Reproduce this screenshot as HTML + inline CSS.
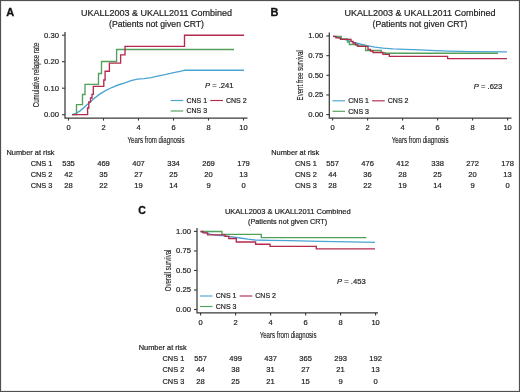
<!DOCTYPE html><html><head><meta charset="utf-8"><style>html,body{margin:0;padding:0;background:#fff;}svg{display:block;will-change:transform;filter:blur(0.3px);}text{font-family:"Liberation Sans", sans-serif;}</style></head><body>
<svg width="520" height="392" viewBox="0 0 520 392">
<rect x="0" y="0" width="520" height="392" fill="#fff"/>
<text x="6.2" y="15.7" font-size="11" font-weight="bold" fill="#111" stroke="#111" stroke-width="0.3">A</text>
<text x="156.5" y="16.3" font-size="9" text-anchor="middle" fill="#1e1e1e" stroke="#1e1e1e" stroke-width="0.2" textLength="151.2" lengthAdjust="spacingAndGlyphs">UKALL2003 &amp; UKALL2011 Combined</text>
<text x="156.5" y="26.7" font-size="9" text-anchor="middle" fill="#1e1e1e" stroke="#1e1e1e" stroke-width="0.2" textLength="95" lengthAdjust="spacingAndGlyphs">(Patients not given CRT)</text>
<path d="M65,32 V118 H247.5" fill="none" stroke="#3a3a3a" stroke-width="1.25"/>
<path d="M62,35.20 H65" stroke="#3a3a3a" stroke-width="1.1"/>
<text x="59" y="37.65" font-size="7.7" text-anchor="end" fill="#1e1e1e" stroke="#1e1e1e" stroke-width="0.2">0.30</text>
<path d="M62,61.70 H65" stroke="#3a3a3a" stroke-width="1.1"/>
<text x="59" y="64.15" font-size="7.7" text-anchor="end" fill="#1e1e1e" stroke="#1e1e1e" stroke-width="0.2">0.20</text>
<path d="M62,88.20 H65" stroke="#3a3a3a" stroke-width="1.1"/>
<text x="59" y="90.65" font-size="7.7" text-anchor="end" fill="#1e1e1e" stroke="#1e1e1e" stroke-width="0.2">0.10</text>
<path d="M62,114.70 H65" stroke="#3a3a3a" stroke-width="1.1"/>
<text x="59" y="117.15" font-size="7.7" text-anchor="end" fill="#1e1e1e" stroke="#1e1e1e" stroke-width="0.2">0.00</text>
<path d="M68.50,118 V120.6" stroke="#3a3a3a" stroke-width="1.1"/>
<text x="68.5" y="130.2" font-size="7.5" text-anchor="middle" fill="#1e1e1e" stroke="#1e1e1e" stroke-width="0.2">0</text>
<path d="M103.50,118 V120.6" stroke="#3a3a3a" stroke-width="1.1"/>
<text x="103.5" y="130.2" font-size="7.5" text-anchor="middle" fill="#1e1e1e" stroke="#1e1e1e" stroke-width="0.2">2</text>
<path d="M138.50,118 V120.6" stroke="#3a3a3a" stroke-width="1.1"/>
<text x="138.5" y="130.2" font-size="7.5" text-anchor="middle" fill="#1e1e1e" stroke="#1e1e1e" stroke-width="0.2">4</text>
<path d="M173.50,118 V120.6" stroke="#3a3a3a" stroke-width="1.1"/>
<text x="173.5" y="130.2" font-size="7.5" text-anchor="middle" fill="#1e1e1e" stroke="#1e1e1e" stroke-width="0.2">6</text>
<path d="M208.50,118 V120.6" stroke="#3a3a3a" stroke-width="1.1"/>
<text x="208.5" y="130.2" font-size="7.5" text-anchor="middle" fill="#1e1e1e" stroke="#1e1e1e" stroke-width="0.2">8</text>
<path d="M243.50,118 V120.6" stroke="#3a3a3a" stroke-width="1.1"/>
<text x="243.5" y="130.2" font-size="7.5" text-anchor="middle" fill="#1e1e1e" stroke="#1e1e1e" stroke-width="0.2">10</text>
<text x="0" y="0" font-size="9" text-anchor="middle" fill="#1e1e1e" stroke="#1e1e1e" stroke-width="0.15" transform="translate(156.0,142.85) scale(0.68,1)">Years from diagnosis</text>
<text x="0" y="0" font-size="9" text-anchor="middle" fill="#1e1e1e" stroke="#1e1e1e" stroke-width="0.15" transform="translate(38.9,74.95) rotate(-90) scale(0.68,1)">Cumulative relapse rate</text>
<path d="M72,114.6 L76,113.3 L80.5,110.6 L86.75,105 L93,99.4 L99.25,94.4 L105.5,90.6 L111.75,87.5 L118,85 L124.25,83.1 L131,80.6 L137.5,79.2 L144,78.6 L151,77.7 L157.5,76.2 L165,74.6 L172.5,72.8 L180,71.4 L185,70.2 L244,70.2" fill="none" stroke="#4aa5d4" stroke-width="1.35" stroke-linejoin="miter"/>
<path d="M72,114.6 H76.5 V104.6 H82.5 V94.5 H85 V84.3 H98.5 V73.5 H101.5 V61.5 H116.6 V49.5 H234" fill="none" stroke="#53a05a" stroke-width="1.35" stroke-linejoin="miter"/>
<path d="M72,114.6 H87.6 V108 H88.8 V102 H90.5 V98 H92 V94.4 H93.3 V86.4 H103.8 V80 H105.1 V71.2 H109.4 V63.1 H120.6 V54.8 H125 V46.3 H184.5 V35.2 H244" fill="none" stroke="#b42a4c" stroke-width="1.35" stroke-linejoin="miter"/>
<text x="205" y="87.6" font-size="7.6" fill="#1e1e1e" stroke="#1e1e1e" stroke-width="0.2"><tspan font-style="italic">P</tspan> = .241</text>
<path d="M170.7,100.5 H183.2" stroke="#4aa5d4" stroke-width="1.15"/>
<text x="186.5" y="102.9" font-size="7.0" text-anchor="start" fill="#1e1e1e" stroke="#1e1e1e" stroke-width="0.2">CNS 1</text>
<path d="M210.29999999999998,100.5 H223.0" stroke="#b42a4c" stroke-width="1.15"/>
<text x="226.0" y="102.9" font-size="7.0" text-anchor="start" fill="#1e1e1e" stroke="#1e1e1e" stroke-width="0.2">CNS 2</text>
<path d="M170.7,111.0 H183.2" stroke="#53a05a" stroke-width="1.15"/>
<text x="186.5" y="113.4" font-size="7.0" text-anchor="start" fill="#1e1e1e" stroke="#1e1e1e" stroke-width="0.2">CNS 3</text>
<text x="6.5" y="154.7" font-size="7.4" text-anchor="start" fill="#1e1e1e" stroke="#1e1e1e" stroke-width="0.2">Number at risk</text>
<text x="30.7" y="165.89999999999998" font-size="7.4" text-anchor="start" fill="#1e1e1e" stroke="#1e1e1e" stroke-width="0.2">CNS 1</text>
<text x="68.5" y="165.89999999999998" font-size="7.6" text-anchor="middle" fill="#1e1e1e" stroke="#1e1e1e" stroke-width="0.2">535</text>
<text x="103.5" y="165.89999999999998" font-size="7.6" text-anchor="middle" fill="#1e1e1e" stroke="#1e1e1e" stroke-width="0.2">469</text>
<text x="138.5" y="165.89999999999998" font-size="7.6" text-anchor="middle" fill="#1e1e1e" stroke="#1e1e1e" stroke-width="0.2">407</text>
<text x="173.5" y="165.89999999999998" font-size="7.6" text-anchor="middle" fill="#1e1e1e" stroke="#1e1e1e" stroke-width="0.2">334</text>
<text x="208.5" y="165.89999999999998" font-size="7.6" text-anchor="middle" fill="#1e1e1e" stroke="#1e1e1e" stroke-width="0.2">269</text>
<text x="243.5" y="165.89999999999998" font-size="7.6" text-anchor="middle" fill="#1e1e1e" stroke="#1e1e1e" stroke-width="0.2">179</text>
<text x="30.7" y="177.1" font-size="7.4" text-anchor="start" fill="#1e1e1e" stroke="#1e1e1e" stroke-width="0.2">CNS 2</text>
<text x="68.5" y="177.1" font-size="7.6" text-anchor="middle" fill="#1e1e1e" stroke="#1e1e1e" stroke-width="0.2">42</text>
<text x="103.5" y="177.1" font-size="7.6" text-anchor="middle" fill="#1e1e1e" stroke="#1e1e1e" stroke-width="0.2">35</text>
<text x="138.5" y="177.1" font-size="7.6" text-anchor="middle" fill="#1e1e1e" stroke="#1e1e1e" stroke-width="0.2">27</text>
<text x="173.5" y="177.1" font-size="7.6" text-anchor="middle" fill="#1e1e1e" stroke="#1e1e1e" stroke-width="0.2">25</text>
<text x="208.5" y="177.1" font-size="7.6" text-anchor="middle" fill="#1e1e1e" stroke="#1e1e1e" stroke-width="0.2">20</text>
<text x="243.5" y="177.1" font-size="7.6" text-anchor="middle" fill="#1e1e1e" stroke="#1e1e1e" stroke-width="0.2">13</text>
<text x="30.7" y="188.29999999999998" font-size="7.4" text-anchor="start" fill="#1e1e1e" stroke="#1e1e1e" stroke-width="0.2">CNS 3</text>
<text x="68.5" y="188.29999999999998" font-size="7.6" text-anchor="middle" fill="#1e1e1e" stroke="#1e1e1e" stroke-width="0.2">28</text>
<text x="103.5" y="188.29999999999998" font-size="7.6" text-anchor="middle" fill="#1e1e1e" stroke="#1e1e1e" stroke-width="0.2">22</text>
<text x="138.5" y="188.29999999999998" font-size="7.6" text-anchor="middle" fill="#1e1e1e" stroke="#1e1e1e" stroke-width="0.2">19</text>
<text x="173.5" y="188.29999999999998" font-size="7.6" text-anchor="middle" fill="#1e1e1e" stroke="#1e1e1e" stroke-width="0.2">14</text>
<text x="208.5" y="188.29999999999998" font-size="7.6" text-anchor="middle" fill="#1e1e1e" stroke="#1e1e1e" stroke-width="0.2">9</text>
<text x="243.5" y="188.29999999999998" font-size="7.6" text-anchor="middle" fill="#1e1e1e" stroke="#1e1e1e" stroke-width="0.2">0</text>
<text x="270.5" y="15.7" font-size="11" font-weight="bold" fill="#111" stroke="#111" stroke-width="0.3">B</text>
<text x="420" y="16.3" font-size="9" text-anchor="middle" fill="#1e1e1e" stroke="#1e1e1e" stroke-width="0.2" textLength="151.2" lengthAdjust="spacingAndGlyphs">UKALL2003 &amp; UKALL2011 Combined</text>
<text x="420" y="26.7" font-size="9" text-anchor="middle" fill="#1e1e1e" stroke="#1e1e1e" stroke-width="0.2" textLength="95" lengthAdjust="spacingAndGlyphs">(Patients not given CRT)</text>
<path d="M329.3,32.6 V118 H511.5" fill="none" stroke="#3a3a3a" stroke-width="1.25"/>
<path d="M326.3,36.00 H329.3" stroke="#3a3a3a" stroke-width="1.1"/>
<text x="323.3" y="38.45" font-size="7.7" text-anchor="end" fill="#1e1e1e" stroke="#1e1e1e" stroke-width="0.2">1.00</text>
<path d="M326.3,55.65 H329.3" stroke="#3a3a3a" stroke-width="1.1"/>
<text x="323.3" y="58.1" font-size="7.7" text-anchor="end" fill="#1e1e1e" stroke="#1e1e1e" stroke-width="0.2">0.75</text>
<path d="M326.3,75.30 H329.3" stroke="#3a3a3a" stroke-width="1.1"/>
<text x="323.3" y="77.75" font-size="7.7" text-anchor="end" fill="#1e1e1e" stroke="#1e1e1e" stroke-width="0.2">0.50</text>
<path d="M326.3,94.95 H329.3" stroke="#3a3a3a" stroke-width="1.1"/>
<text x="323.3" y="97.4" font-size="7.7" text-anchor="end" fill="#1e1e1e" stroke="#1e1e1e" stroke-width="0.2">0.25</text>
<path d="M326.3,114.60 H329.3" stroke="#3a3a3a" stroke-width="1.1"/>
<text x="323.3" y="117.05" font-size="7.7" text-anchor="end" fill="#1e1e1e" stroke="#1e1e1e" stroke-width="0.2">0.00</text>
<path d="M332.60,118 V120.6" stroke="#3a3a3a" stroke-width="1.1"/>
<text x="332.6" y="130.2" font-size="7.5" text-anchor="middle" fill="#1e1e1e" stroke="#1e1e1e" stroke-width="0.2">0</text>
<path d="M367.60,118 V120.6" stroke="#3a3a3a" stroke-width="1.1"/>
<text x="367.6" y="130.2" font-size="7.5" text-anchor="middle" fill="#1e1e1e" stroke="#1e1e1e" stroke-width="0.2">2</text>
<path d="M402.60,118 V120.6" stroke="#3a3a3a" stroke-width="1.1"/>
<text x="402.6" y="130.2" font-size="7.5" text-anchor="middle" fill="#1e1e1e" stroke="#1e1e1e" stroke-width="0.2">4</text>
<path d="M437.60,118 V120.6" stroke="#3a3a3a" stroke-width="1.1"/>
<text x="437.6" y="130.2" font-size="7.5" text-anchor="middle" fill="#1e1e1e" stroke="#1e1e1e" stroke-width="0.2">6</text>
<path d="M472.60,118 V120.6" stroke="#3a3a3a" stroke-width="1.1"/>
<text x="472.6" y="130.2" font-size="7.5" text-anchor="middle" fill="#1e1e1e" stroke="#1e1e1e" stroke-width="0.2">8</text>
<path d="M507.60,118 V120.6" stroke="#3a3a3a" stroke-width="1.1"/>
<text x="507.6" y="130.2" font-size="7.5" text-anchor="middle" fill="#1e1e1e" stroke="#1e1e1e" stroke-width="0.2">10</text>
<text x="0" y="0" font-size="9" text-anchor="middle" fill="#1e1e1e" stroke="#1e1e1e" stroke-width="0.15" transform="translate(420.1,142.85) scale(0.68,1)">Years from diagnosis</text>
<text x="0" y="0" font-size="9" text-anchor="middle" fill="#1e1e1e" stroke="#1e1e1e" stroke-width="0.15" transform="translate(302.5,75.3) rotate(-90) scale(0.68,1)">Event free survival</text>
<path d="M333,36.3 L340,38.2 L347,40.2 L353,42.1 L360,44 L367,45.7 L375,47.1 L383,48.1 L393,48.8 L405,49.3 L420,49.9 L435,50.6 L450,51.2 L470,51.6 L507,51.9" fill="none" stroke="#4aa5d4" stroke-width="1.35" stroke-linejoin="miter"/>
<path d="M333,36.3 H341.2 V38.9 H347.5 V42 H349.4 V44.5 H357 V45.8 H365.6 V50.5 H381.2 V52.6 H385 V53.2 H498" fill="none" stroke="#53a05a" stroke-width="1.35" stroke-linejoin="miter"/>
<path d="M333,36.3 H336 V37.8 H340.5 V39.4 H351 V41.3 H353 V43 H355.5 V44.8 H358 V46.3 H368 V49.4 H370.5 V51 H373 V52.5 H383 V54.4 H389.3 V56.3 H447.6 V58.6 H507" fill="none" stroke="#b42a4c" stroke-width="1.35" stroke-linejoin="miter"/>
<text x="473.8" y="89" font-size="7.6" fill="#1e1e1e" stroke="#1e1e1e" stroke-width="0.2"><tspan font-style="italic">P</tspan> = .623</text>
<path d="M332.5,100.8 H345.0" stroke="#4aa5d4" stroke-width="1.15"/>
<text x="348.3" y="103.2" font-size="7.0" text-anchor="start" fill="#1e1e1e" stroke="#1e1e1e" stroke-width="0.2">CNS 1</text>
<path d="M372.1,100.8 H384.8" stroke="#b42a4c" stroke-width="1.15"/>
<text x="387.8" y="103.2" font-size="7.0" text-anchor="start" fill="#1e1e1e" stroke="#1e1e1e" stroke-width="0.2">CNS 2</text>
<path d="M332.5,111.3 H345.0" stroke="#53a05a" stroke-width="1.15"/>
<text x="348.3" y="113.7" font-size="7.0" text-anchor="start" fill="#1e1e1e" stroke="#1e1e1e" stroke-width="0.2">CNS 3</text>
<text x="271.2" y="154.7" font-size="7.4" text-anchor="start" fill="#1e1e1e" stroke="#1e1e1e" stroke-width="0.2">Number at risk</text>
<text x="295" y="165.89999999999998" font-size="7.4" text-anchor="start" fill="#1e1e1e" stroke="#1e1e1e" stroke-width="0.2">CNS 1</text>
<text x="332.6" y="165.89999999999998" font-size="7.6" text-anchor="middle" fill="#1e1e1e" stroke="#1e1e1e" stroke-width="0.2">557</text>
<text x="367.6" y="165.89999999999998" font-size="7.6" text-anchor="middle" fill="#1e1e1e" stroke="#1e1e1e" stroke-width="0.2">476</text>
<text x="402.6" y="165.89999999999998" font-size="7.6" text-anchor="middle" fill="#1e1e1e" stroke="#1e1e1e" stroke-width="0.2">412</text>
<text x="437.6" y="165.89999999999998" font-size="7.6" text-anchor="middle" fill="#1e1e1e" stroke="#1e1e1e" stroke-width="0.2">338</text>
<text x="472.6" y="165.89999999999998" font-size="7.6" text-anchor="middle" fill="#1e1e1e" stroke="#1e1e1e" stroke-width="0.2">272</text>
<text x="507.6" y="165.89999999999998" font-size="7.6" text-anchor="middle" fill="#1e1e1e" stroke="#1e1e1e" stroke-width="0.2">178</text>
<text x="295" y="177.1" font-size="7.4" text-anchor="start" fill="#1e1e1e" stroke="#1e1e1e" stroke-width="0.2">CNS 2</text>
<text x="332.6" y="177.1" font-size="7.6" text-anchor="middle" fill="#1e1e1e" stroke="#1e1e1e" stroke-width="0.2">44</text>
<text x="367.6" y="177.1" font-size="7.6" text-anchor="middle" fill="#1e1e1e" stroke="#1e1e1e" stroke-width="0.2">36</text>
<text x="402.6" y="177.1" font-size="7.6" text-anchor="middle" fill="#1e1e1e" stroke="#1e1e1e" stroke-width="0.2">28</text>
<text x="437.6" y="177.1" font-size="7.6" text-anchor="middle" fill="#1e1e1e" stroke="#1e1e1e" stroke-width="0.2">25</text>
<text x="472.6" y="177.1" font-size="7.6" text-anchor="middle" fill="#1e1e1e" stroke="#1e1e1e" stroke-width="0.2">20</text>
<text x="507.6" y="177.1" font-size="7.6" text-anchor="middle" fill="#1e1e1e" stroke="#1e1e1e" stroke-width="0.2">13</text>
<text x="295" y="188.29999999999998" font-size="7.4" text-anchor="start" fill="#1e1e1e" stroke="#1e1e1e" stroke-width="0.2">CNS 3</text>
<text x="332.6" y="188.29999999999998" font-size="7.6" text-anchor="middle" fill="#1e1e1e" stroke="#1e1e1e" stroke-width="0.2">28</text>
<text x="367.6" y="188.29999999999998" font-size="7.6" text-anchor="middle" fill="#1e1e1e" stroke="#1e1e1e" stroke-width="0.2">22</text>
<text x="402.6" y="188.29999999999998" font-size="7.6" text-anchor="middle" fill="#1e1e1e" stroke="#1e1e1e" stroke-width="0.2">19</text>
<text x="437.6" y="188.29999999999998" font-size="7.6" text-anchor="middle" fill="#1e1e1e" stroke="#1e1e1e" stroke-width="0.2">14</text>
<text x="472.6" y="188.29999999999998" font-size="7.6" text-anchor="middle" fill="#1e1e1e" stroke="#1e1e1e" stroke-width="0.2">9</text>
<text x="507.6" y="188.29999999999998" font-size="7.6" text-anchor="middle" fill="#1e1e1e" stroke="#1e1e1e" stroke-width="0.2">0</text>
<text x="138.3" y="214.3" font-size="10.5" font-weight="bold" fill="#111" stroke="#111" stroke-width="0.3">C</text>
<text x="287.8" y="214.2" font-size="7.5" text-anchor="middle" fill="#1e1e1e" stroke="#1e1e1e" stroke-width="0.2" textLength="125.8" lengthAdjust="spacingAndGlyphs">UKALL2003 &amp; UKALL2011 Combined</text>
<text x="287.6" y="223.9" font-size="7.3" text-anchor="middle" fill="#1e1e1e" stroke="#1e1e1e" stroke-width="0.2" textLength="79" lengthAdjust="spacingAndGlyphs">(Patients not given CRT)</text>
<path d="M197,228 V312.8 H378" fill="none" stroke="#3a3a3a" stroke-width="1.25"/>
<path d="M194,231.40 H197" stroke="#3a3a3a" stroke-width="1.1"/>
<text x="191" y="233.85" font-size="7.7" text-anchor="end" fill="#1e1e1e" stroke="#1e1e1e" stroke-width="0.2">1.00</text>
<path d="M194,250.93 H197" stroke="#3a3a3a" stroke-width="1.1"/>
<text x="191" y="253.38" font-size="7.7" text-anchor="end" fill="#1e1e1e" stroke="#1e1e1e" stroke-width="0.2">0.75</text>
<path d="M194,270.45 H197" stroke="#3a3a3a" stroke-width="1.1"/>
<text x="191" y="272.9" font-size="7.7" text-anchor="end" fill="#1e1e1e" stroke="#1e1e1e" stroke-width="0.2">0.50</text>
<path d="M194,289.98 H197" stroke="#3a3a3a" stroke-width="1.1"/>
<text x="191" y="292.43" font-size="7.7" text-anchor="end" fill="#1e1e1e" stroke="#1e1e1e" stroke-width="0.2">0.25</text>
<path d="M194,309.50 H197" stroke="#3a3a3a" stroke-width="1.1"/>
<text x="191" y="311.95" font-size="7.7" text-anchor="end" fill="#1e1e1e" stroke="#1e1e1e" stroke-width="0.2">0.00</text>
<path d="M200.60,312.8 V315.40000000000003" stroke="#3a3a3a" stroke-width="1.1"/>
<text x="200.6" y="325.0" font-size="7.5" text-anchor="middle" fill="#1e1e1e" stroke="#1e1e1e" stroke-width="0.2">0</text>
<path d="M235.60,312.8 V315.40000000000003" stroke="#3a3a3a" stroke-width="1.1"/>
<text x="235.6" y="325.0" font-size="7.5" text-anchor="middle" fill="#1e1e1e" stroke="#1e1e1e" stroke-width="0.2">2</text>
<path d="M270.60,312.8 V315.40000000000003" stroke="#3a3a3a" stroke-width="1.1"/>
<text x="270.6" y="325.0" font-size="7.5" text-anchor="middle" fill="#1e1e1e" stroke="#1e1e1e" stroke-width="0.2">4</text>
<path d="M305.60,312.8 V315.40000000000003" stroke="#3a3a3a" stroke-width="1.1"/>
<text x="305.6" y="325.0" font-size="7.5" text-anchor="middle" fill="#1e1e1e" stroke="#1e1e1e" stroke-width="0.2">6</text>
<path d="M340.60,312.8 V315.40000000000003" stroke="#3a3a3a" stroke-width="1.1"/>
<text x="340.6" y="325.0" font-size="7.5" text-anchor="middle" fill="#1e1e1e" stroke="#1e1e1e" stroke-width="0.2">8</text>
<path d="M375.60,312.8 V315.40000000000003" stroke="#3a3a3a" stroke-width="1.1"/>
<text x="375.6" y="325.0" font-size="7.5" text-anchor="middle" fill="#1e1e1e" stroke="#1e1e1e" stroke-width="0.2">10</text>
<text x="0" y="0" font-size="9" text-anchor="middle" fill="#1e1e1e" stroke="#1e1e1e" stroke-width="0.15" transform="translate(288.1,338.1) scale(0.68,1)">Years from diagnosis</text>
<text x="0" y="0" font-size="9" text-anchor="middle" fill="#1e1e1e" stroke="#1e1e1e" stroke-width="0.15" transform="translate(170.8,270.45) rotate(-90) scale(0.68,1)">Overall survival</text>
<path d="M200.6,231.5 L205,232.6 L210,234.2 L218,235.3 L225,235.8 L232,236.8 L240,238 L248,239.2 L255,240 L270,240.4 L290,240.7 L320,241.3 L350,241.9 L375,242.3" fill="none" stroke="#4aa5d4" stroke-width="1.35" stroke-linejoin="miter"/>
<path d="M200.6,231.5 H221.9 V234.4 H261.3 V237.6 H366.3" fill="none" stroke="#53a05a" stroke-width="1.35" stroke-linejoin="miter"/>
<path d="M200.6,231.5 H203.1 V232.8 H207.5 V234.8 H225 V236.3 H228.8 V238.5 H236.3 V242 H255.6 V244.2 H270 V246.4 H316.3 V248.8 H375" fill="none" stroke="#b42a4c" stroke-width="1.35" stroke-linejoin="miter"/>
<text x="337.1" y="283.8" font-size="7.6" fill="#1e1e1e" stroke="#1e1e1e" stroke-width="0.2"><tspan font-style="italic">P</tspan> = .453</text>
<path d="M200,296 H212.5" stroke="#4aa5d4" stroke-width="1.15"/>
<text x="215.8" y="298.4" font-size="7.0" text-anchor="start" fill="#1e1e1e" stroke="#1e1e1e" stroke-width="0.2">CNS 1</text>
<path d="M239.6,296 H252.3" stroke="#b42a4c" stroke-width="1.15"/>
<text x="255.3" y="298.4" font-size="7.0" text-anchor="start" fill="#1e1e1e" stroke="#1e1e1e" stroke-width="0.2">CNS 2</text>
<path d="M200,306.5 H212.5" stroke="#53a05a" stroke-width="1.15"/>
<text x="215.8" y="308.9" font-size="7.0" text-anchor="start" fill="#1e1e1e" stroke="#1e1e1e" stroke-width="0.2">CNS 3</text>
<text x="138.7" y="349.9" font-size="7.4" text-anchor="start" fill="#1e1e1e" stroke="#1e1e1e" stroke-width="0.2">Number at risk</text>
<text x="162.5" y="361.09999999999997" font-size="7.4" text-anchor="start" fill="#1e1e1e" stroke="#1e1e1e" stroke-width="0.2">CNS 1</text>
<text x="200.6" y="361.09999999999997" font-size="7.6" text-anchor="middle" fill="#1e1e1e" stroke="#1e1e1e" stroke-width="0.2">557</text>
<text x="235.6" y="361.09999999999997" font-size="7.6" text-anchor="middle" fill="#1e1e1e" stroke="#1e1e1e" stroke-width="0.2">499</text>
<text x="270.6" y="361.09999999999997" font-size="7.6" text-anchor="middle" fill="#1e1e1e" stroke="#1e1e1e" stroke-width="0.2">437</text>
<text x="305.6" y="361.09999999999997" font-size="7.6" text-anchor="middle" fill="#1e1e1e" stroke="#1e1e1e" stroke-width="0.2">365</text>
<text x="340.6" y="361.09999999999997" font-size="7.6" text-anchor="middle" fill="#1e1e1e" stroke="#1e1e1e" stroke-width="0.2">293</text>
<text x="375.6" y="361.09999999999997" font-size="7.6" text-anchor="middle" fill="#1e1e1e" stroke="#1e1e1e" stroke-width="0.2">192</text>
<text x="162.5" y="372.29999999999995" font-size="7.4" text-anchor="start" fill="#1e1e1e" stroke="#1e1e1e" stroke-width="0.2">CNS 2</text>
<text x="200.6" y="372.29999999999995" font-size="7.6" text-anchor="middle" fill="#1e1e1e" stroke="#1e1e1e" stroke-width="0.2">44</text>
<text x="235.6" y="372.29999999999995" font-size="7.6" text-anchor="middle" fill="#1e1e1e" stroke="#1e1e1e" stroke-width="0.2">38</text>
<text x="270.6" y="372.29999999999995" font-size="7.6" text-anchor="middle" fill="#1e1e1e" stroke="#1e1e1e" stroke-width="0.2">31</text>
<text x="305.6" y="372.29999999999995" font-size="7.6" text-anchor="middle" fill="#1e1e1e" stroke="#1e1e1e" stroke-width="0.2">27</text>
<text x="340.6" y="372.29999999999995" font-size="7.6" text-anchor="middle" fill="#1e1e1e" stroke="#1e1e1e" stroke-width="0.2">21</text>
<text x="375.6" y="372.29999999999995" font-size="7.6" text-anchor="middle" fill="#1e1e1e" stroke="#1e1e1e" stroke-width="0.2">13</text>
<text x="162.5" y="383.5" font-size="7.4" text-anchor="start" fill="#1e1e1e" stroke="#1e1e1e" stroke-width="0.2">CNS 3</text>
<text x="200.6" y="383.5" font-size="7.6" text-anchor="middle" fill="#1e1e1e" stroke="#1e1e1e" stroke-width="0.2">28</text>
<text x="235.6" y="383.5" font-size="7.6" text-anchor="middle" fill="#1e1e1e" stroke="#1e1e1e" stroke-width="0.2">25</text>
<text x="270.6" y="383.5" font-size="7.6" text-anchor="middle" fill="#1e1e1e" stroke="#1e1e1e" stroke-width="0.2">21</text>
<text x="305.6" y="383.5" font-size="7.6" text-anchor="middle" fill="#1e1e1e" stroke="#1e1e1e" stroke-width="0.2">15</text>
<text x="340.6" y="383.5" font-size="7.6" text-anchor="middle" fill="#1e1e1e" stroke="#1e1e1e" stroke-width="0.2">9</text>
<text x="375.6" y="383.5" font-size="7.6" text-anchor="middle" fill="#1e1e1e" stroke="#1e1e1e" stroke-width="0.2">0</text>
<rect x="0.5" y="0.5" width="519" height="391" fill="none" stroke="#505050" stroke-width="1.2"/>
</svg></body></html>
